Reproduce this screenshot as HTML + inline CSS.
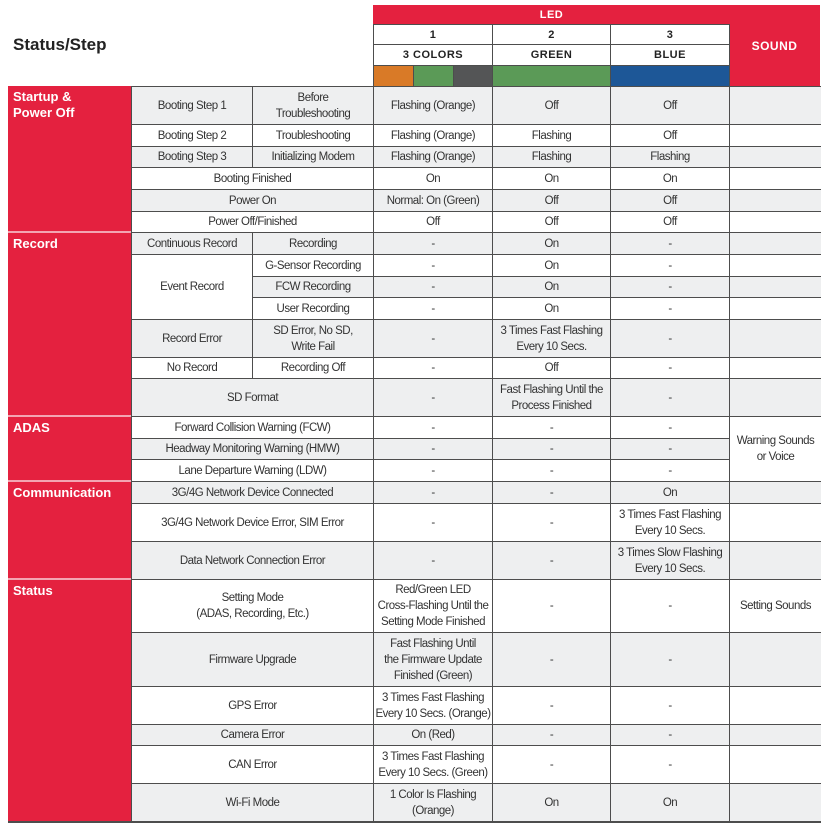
<!DOCTYPE html>
<html><head><meta charset="utf-8"><style>
body{margin:0;width:824px;height:829px;background:#fff;position:relative;overflow:hidden;font-family:"Liberation Sans",sans-serif}
.c{position:absolute;box-sizing:border-box;border:1px solid #4d4d4d;display:flex;align-items:center;justify-content:center;text-align:center;font-size:11.5px;line-height:16px;color:#333;letter-spacing:-0.5px;white-space:nowrap;overflow:hidden}
.g{background:#eeeff0}.w{background:#fff}
.r{position:absolute;background:#e4213f;color:#fff;font-family:"Liberation Sans",sans-serif;font-weight:bold;font-size:13px;line-height:16px;box-sizing:border-box;padding:3px 0 0 5px;border-bottom:2px solid #f3a5b2}
.h{font-family:"Liberation Sans",sans-serif;font-weight:bold;font-size:11px;color:#222;letter-spacing:0.5px}
</style></head><body>
<div style="position:absolute;left:13px;top:35px;font-family:'Liberation Sans',sans-serif;font-weight:bold;font-size:17px;color:#222">Status/Step</div>
<!-- header -->
<div class="c h" style="left:373px;top:5px;width:357px;height:20px;background:#e4213f;color:#fff;border-color:#e4213f">LED</div>
<div class="c h" style="left:729px;top:5px;width:91px;height:82px;background:#e4213f;color:#fff;border-color:#e4213f;font-size:12px">SOUND</div>
<div class="c h w" style="left:373px;top:24px;width:120px;height:21px">1</div>
<div class="c h w" style="left:492px;top:24px;width:119px;height:21px">2</div>
<div class="c h w" style="left:610px;top:24px;width:120px;height:21px">3</div>
<div class="c h w" style="left:373px;top:44px;width:120px;height:22px">3 COLORS</div>
<div class="c h w" style="left:492px;top:44px;width:119px;height:22px">GREEN</div>
<div class="c h w" style="left:610px;top:44px;width:120px;height:22px">BLUE</div>
<div class="c" style="left:373px;top:65px;width:41px;height:22px;background:#d97a27"></div>
<div class="c" style="left:413px;top:65px;width:41px;height:22px;background:#5b9a57"></div>
<div class="c" style="left:453px;top:65px;width:40px;height:22px;background:#545556"></div>
<div class="c" style="left:492px;top:65px;width:119px;height:22px;background:#5b9a57"></div>
<div class="c" style="left:610px;top:65px;width:120px;height:22px;background:#1d5797"></div>
<!-- red sections -->
<div class="r" style="left:8px;top:86px;width:123px;height:147px">Startup &amp;<br>Power Off</div>
<div class="r" style="left:8px;top:233px;width:123px;height:184px">Record</div>
<div class="r" style="left:8px;top:417px;width:123px;height:65px">ADAS</div>
<div class="r" style="left:8px;top:482px;width:123px;height:98px">Communication</div>
<div class="r" style="left:8px;top:580px;width:123px;height:242px;border-bottom:none">Status</div>

<div class="c g" style="left:131px;top:86px;width:122px;height:39px">Booting Step 1</div>
<div class="c g" style="left:252px;top:86px;width:122px;height:39px">Before<br>Troubleshooting</div>
<div class="c g" style="left:373px;top:86px;width:120px;height:39px">Flashing (Orange)</div>
<div class="c g" style="left:492px;top:86px;width:119px;height:39px">Off</div>
<div class="c g" style="left:610px;top:86px;width:120px;height:39px">Off</div>
<div class="c g" style="left:729px;top:86px;width:92px;height:39px;border-right:none"></div>
<div class="c w" style="left:131px;top:124px;width:122px;height:23px">Booting Step 2</div>
<div class="c w" style="left:252px;top:124px;width:122px;height:23px">Troubleshooting</div>
<div class="c w" style="left:373px;top:124px;width:120px;height:23px">Flashing (Orange)</div>
<div class="c w" style="left:492px;top:124px;width:119px;height:23px">Flashing</div>
<div class="c w" style="left:610px;top:124px;width:120px;height:23px">Off</div>
<div class="c w" style="left:729px;top:124px;width:92px;height:23px;border-right:none"></div>
<div class="c g" style="left:131px;top:146px;width:122px;height:22px">Booting Step 3</div>
<div class="c g" style="left:252px;top:146px;width:122px;height:22px">Initializing Modem</div>
<div class="c g" style="left:373px;top:146px;width:120px;height:22px">Flashing (Orange)</div>
<div class="c g" style="left:492px;top:146px;width:119px;height:22px">Flashing</div>
<div class="c g" style="left:610px;top:146px;width:120px;height:22px">Flashing</div>
<div class="c g" style="left:729px;top:146px;width:92px;height:22px;border-right:none"></div>
<div class="c w" style="left:131px;top:167px;width:243px;height:23px">Booting Finished</div>
<div class="c w" style="left:373px;top:167px;width:120px;height:23px">On</div>
<div class="c w" style="left:492px;top:167px;width:119px;height:23px">On</div>
<div class="c w" style="left:610px;top:167px;width:120px;height:23px">On</div>
<div class="c w" style="left:729px;top:167px;width:92px;height:23px;border-right:none"></div>
<div class="c g" style="left:131px;top:189px;width:243px;height:23px">Power On</div>
<div class="c g" style="left:373px;top:189px;width:120px;height:23px">Normal: On (Green)</div>
<div class="c g" style="left:492px;top:189px;width:119px;height:23px">Off</div>
<div class="c g" style="left:610px;top:189px;width:120px;height:23px">Off</div>
<div class="c g" style="left:729px;top:189px;width:92px;height:23px;border-right:none"></div>
<div class="c w" style="left:131px;top:211px;width:243px;height:22px">Power Off/Finished</div>
<div class="c w" style="left:373px;top:211px;width:120px;height:22px">Off</div>
<div class="c w" style="left:492px;top:211px;width:119px;height:22px">Off</div>
<div class="c w" style="left:610px;top:211px;width:120px;height:22px">Off</div>
<div class="c w" style="left:729px;top:211px;width:92px;height:22px;border-right:none"></div>
<div class="c g" style="left:131px;top:232px;width:122px;height:23px">Continuous Record</div>
<div class="c g" style="left:252px;top:232px;width:122px;height:23px">Recording</div>
<div class="c g" style="left:373px;top:232px;width:120px;height:23px">-</div>
<div class="c g" style="left:492px;top:232px;width:119px;height:23px">On</div>
<div class="c g" style="left:610px;top:232px;width:120px;height:23px">-</div>
<div class="c g" style="left:729px;top:232px;width:92px;height:23px;border-right:none"></div>
<div class="c w" style="left:131px;top:254px;width:122px;height:66px">Event Record</div>
<div class="c w" style="left:252px;top:254px;width:122px;height:23px">G-Sensor Recording</div>
<div class="c w" style="left:373px;top:254px;width:120px;height:23px">-</div>
<div class="c w" style="left:492px;top:254px;width:119px;height:23px">On</div>
<div class="c w" style="left:610px;top:254px;width:120px;height:23px">-</div>
<div class="c w" style="left:729px;top:254px;width:92px;height:23px;border-right:none"></div>
<div class="c g" style="left:252px;top:276px;width:122px;height:22px">FCW Recording</div>
<div class="c g" style="left:373px;top:276px;width:120px;height:22px">-</div>
<div class="c g" style="left:492px;top:276px;width:119px;height:22px">On</div>
<div class="c g" style="left:610px;top:276px;width:120px;height:22px">-</div>
<div class="c g" style="left:729px;top:276px;width:92px;height:22px;border-right:none"></div>
<div class="c w" style="left:252px;top:297px;width:122px;height:23px">User Recording</div>
<div class="c w" style="left:373px;top:297px;width:120px;height:23px">-</div>
<div class="c w" style="left:492px;top:297px;width:119px;height:23px">On</div>
<div class="c w" style="left:610px;top:297px;width:120px;height:23px">-</div>
<div class="c w" style="left:729px;top:297px;width:92px;height:23px;border-right:none"></div>
<div class="c g" style="left:131px;top:319px;width:122px;height:39px">Record Error</div>
<div class="c g" style="left:252px;top:319px;width:122px;height:39px">SD Error, No SD,<br>Write Fail</div>
<div class="c g" style="left:373px;top:319px;width:120px;height:39px">-</div>
<div class="c g" style="left:492px;top:319px;width:119px;height:39px">3 Times Fast Flashing<br>Every 10 Secs.</div>
<div class="c g" style="left:610px;top:319px;width:120px;height:39px">-</div>
<div class="c g" style="left:729px;top:319px;width:92px;height:39px;border-right:none"></div>
<div class="c w" style="left:131px;top:357px;width:122px;height:22px">No Record</div>
<div class="c w" style="left:252px;top:357px;width:122px;height:22px">Recording Off</div>
<div class="c w" style="left:373px;top:357px;width:120px;height:22px">-</div>
<div class="c w" style="left:492px;top:357px;width:119px;height:22px">Off</div>
<div class="c w" style="left:610px;top:357px;width:120px;height:22px">-</div>
<div class="c w" style="left:729px;top:357px;width:92px;height:22px;border-right:none"></div>
<div class="c g" style="left:131px;top:378px;width:243px;height:39px">SD Format</div>
<div class="c g" style="left:373px;top:378px;width:120px;height:39px">-</div>
<div class="c g" style="left:492px;top:378px;width:119px;height:39px">Fast Flashing Until the<br>Process Finished</div>
<div class="c g" style="left:610px;top:378px;width:120px;height:39px">-</div>
<div class="c g" style="left:729px;top:378px;width:92px;height:39px;border-right:none"></div>
<div class="c w" style="left:131px;top:416px;width:243px;height:23px">Forward Collision Warning (FCW)</div>
<div class="c w" style="left:373px;top:416px;width:120px;height:23px">-</div>
<div class="c w" style="left:492px;top:416px;width:119px;height:23px">-</div>
<div class="c w" style="left:610px;top:416px;width:120px;height:23px">-</div>
<div class="c g" style="left:131px;top:438px;width:243px;height:22px">Headway Monitoring Warning (HMW)</div>
<div class="c g" style="left:373px;top:438px;width:120px;height:22px">-</div>
<div class="c g" style="left:492px;top:438px;width:119px;height:22px">-</div>
<div class="c g" style="left:610px;top:438px;width:120px;height:22px">-</div>
<div class="c w" style="left:131px;top:459px;width:243px;height:23px">Lane Departure Warning (LDW)</div>
<div class="c w" style="left:373px;top:459px;width:120px;height:23px">-</div>
<div class="c w" style="left:492px;top:459px;width:119px;height:23px">-</div>
<div class="c w" style="left:610px;top:459px;width:120px;height:23px">-</div>
<div class="c w" style="left:729px;top:416px;width:92px;height:66px;border-right:none">Warning Sounds<br>or Voice</div>
<div class="c g" style="left:131px;top:481px;width:243px;height:23px">3G/4G Network Device Connected</div>
<div class="c g" style="left:373px;top:481px;width:120px;height:23px">-</div>
<div class="c g" style="left:492px;top:481px;width:119px;height:23px">-</div>
<div class="c g" style="left:610px;top:481px;width:120px;height:23px">On</div>
<div class="c g" style="left:729px;top:481px;width:92px;height:23px;border-right:none"></div>
<div class="c w" style="left:131px;top:503px;width:243px;height:39px">3G/4G Network Device Error, SIM Error</div>
<div class="c w" style="left:373px;top:503px;width:120px;height:39px">-</div>
<div class="c w" style="left:492px;top:503px;width:119px;height:39px">-</div>
<div class="c w" style="left:610px;top:503px;width:120px;height:39px">3 Times Fast Flashing<br>Every 10 Secs.</div>
<div class="c w" style="left:729px;top:503px;width:92px;height:39px;border-right:none"></div>
<div class="c g" style="left:131px;top:541px;width:243px;height:39px">Data Network Connection Error</div>
<div class="c g" style="left:373px;top:541px;width:120px;height:39px">-</div>
<div class="c g" style="left:492px;top:541px;width:119px;height:39px">-</div>
<div class="c g" style="left:610px;top:541px;width:120px;height:39px">3 Times Slow Flashing<br>Every 10 Secs.</div>
<div class="c g" style="left:729px;top:541px;width:92px;height:39px;border-right:none"></div>
<div class="c w" style="left:131px;top:579px;width:243px;height:54px">Setting Mode<br>(ADAS, Recording, Etc.)</div>
<div class="c w" style="left:373px;top:579px;width:120px;height:54px">Red/Green LED<br>Cross-Flashing Until the<br>Setting Mode Finished</div>
<div class="c w" style="left:492px;top:579px;width:119px;height:54px">-</div>
<div class="c w" style="left:610px;top:579px;width:120px;height:54px">-</div>
<div class="c w" style="left:729px;top:579px;width:92px;height:54px;border-right:none">Setting Sounds</div>
<div class="c g" style="left:131px;top:632px;width:243px;height:55px">Firmware Upgrade</div>
<div class="c g" style="left:373px;top:632px;width:120px;height:55px">Fast Flashing Until<br>the Firmware Update<br>Finished (Green)</div>
<div class="c g" style="left:492px;top:632px;width:119px;height:55px">-</div>
<div class="c g" style="left:610px;top:632px;width:120px;height:55px">-</div>
<div class="c g" style="left:729px;top:632px;width:92px;height:55px;border-right:none"></div>
<div class="c w" style="left:131px;top:686px;width:243px;height:39px">GPS Error</div>
<div class="c w" style="left:373px;top:686px;width:120px;height:39px">3 Times Fast Flashing<br>Every 10 Secs. (Orange)</div>
<div class="c w" style="left:492px;top:686px;width:119px;height:39px">-</div>
<div class="c w" style="left:610px;top:686px;width:120px;height:39px">-</div>
<div class="c w" style="left:729px;top:686px;width:92px;height:39px;border-right:none"></div>
<div class="c g" style="left:131px;top:724px;width:243px;height:22px">Camera Error</div>
<div class="c g" style="left:373px;top:724px;width:120px;height:22px">On (Red)</div>
<div class="c g" style="left:492px;top:724px;width:119px;height:22px">-</div>
<div class="c g" style="left:610px;top:724px;width:120px;height:22px">-</div>
<div class="c g" style="left:729px;top:724px;width:92px;height:22px;border-right:none"></div>
<div class="c w" style="left:131px;top:745px;width:243px;height:39px">CAN Error</div>
<div class="c w" style="left:373px;top:745px;width:120px;height:39px">3 Times Fast Flashing<br>Every 10 Secs. (Green)</div>
<div class="c w" style="left:492px;top:745px;width:119px;height:39px">-</div>
<div class="c w" style="left:610px;top:745px;width:120px;height:39px">-</div>
<div class="c w" style="left:729px;top:745px;width:92px;height:39px;border-right:none"></div>
<div class="c g" style="left:131px;top:783px;width:243px;height:39px">Wi-Fi Mode</div>
<div class="c g" style="left:373px;top:783px;width:120px;height:39px">1 Color Is Flashing<br>(Orange)</div>
<div class="c g" style="left:492px;top:783px;width:119px;height:39px">On</div>
<div class="c g" style="left:610px;top:783px;width:120px;height:39px">On</div>
<div class="c g" style="left:729px;top:783px;width:92px;height:39px;border-right:none"></div>
<div style="position:absolute;left:8px;top:821px;width:813px;height:2px;background:#4d4d4d"></div>
</body></html>
